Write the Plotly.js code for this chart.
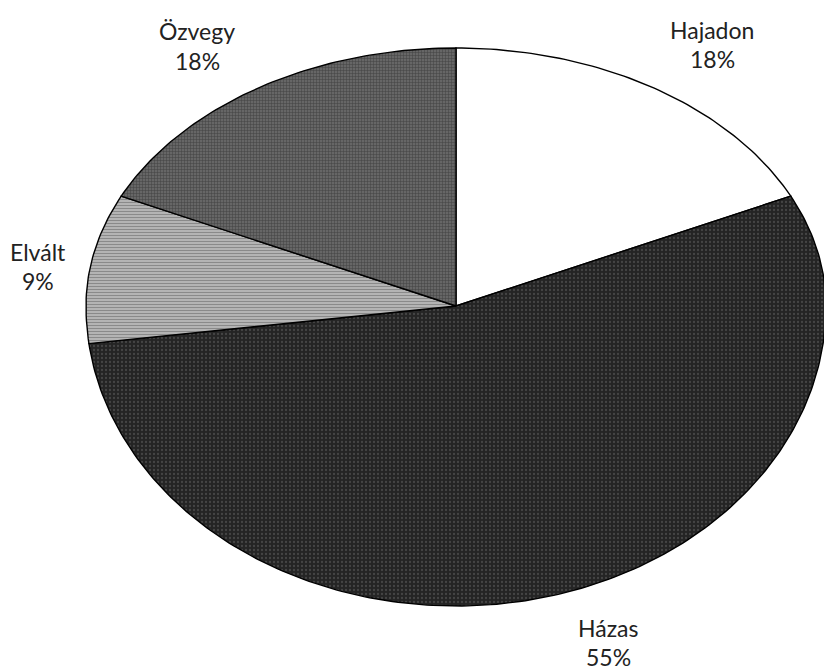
<!DOCTYPE html>
<html>
<head>
<meta charset="utf-8">
<script src="https://cdn.plot.ly/plotly-3.0.1.min.js"></script>
<style>
html,body{margin:0;padding:0;background:#fff;}
#chart{width:824px;height:670px;}
</style>
</head>
<body>
<div id="chart"></div>
<script>
// Data (clockwise from 12 o'clock)
const categories = ["Hajadon", "Házas", "Elvált", "Özvegy"];
const shares = [18, 55, 9, 18];

// Styling
const fills = ["#ffffff", "#2a2a2a", "#a9a9a9", "#555555"];
const patterns = [
  null,
  {shape: ".", fgcolor: "#454545", bgcolor: "#242424", size: 4, solidity: 0.25},
  {shape: "-", fgcolor: "#8a8a8a", bgcolor: "#b4b4b4", size: 3, solidity: 0.35},
  {shape: "+", fgcolor: "#424242", bgcolor: "#666666", size: 3, solidity: 0.3}
];
const labelPos = [
  {x: 712, y1: 30, y2: 59},
  {x: 608, y1: 628, y2: 657},
  {x: 38,  y1: 252, y2: 281},
  {x: 197, y1: 31, y2: 61}
];
const W = 824, H = 670;
const bottomStretch = 300 / 258;   // lower half of the tilted ellipse is deeper

const total = shares.reduce((a, b) => a + b, 0);
const traces = [];
let cum = 0;
shares.forEach((v, i) => {
  const a0 = cum / total * 2 * Math.PI;
  cum += v;
  const a1 = cum / total * 2 * Math.PI;
  const xs = [0], ys = [0];
  const n = Math.max(8, Math.round(v * 4));
  for (let k = 0; k <= n; k++) {
    const t = a0 + (a1 - a0) * k / n;
    const c = Math.cos(t);
    xs.push(Math.sin(t));
    ys.push(c < 0 ? c * bottomStretch : c);
  }
  xs.push(0); ys.push(0);
  const tr = {
    type: "scatter", mode: "lines", x: xs, y: ys,
    fill: "toself", fillcolor: fills[i],
    line: {color: "#000", width: 1.4},
    hoverinfo: "skip", showlegend: false, name: categories[i]
  };
  if (patterns[i]) tr.fillpattern = patterns[i];
  traces.push(tr);
});

const font = {family: "Lato, 'Open Sans', sans-serif", size: 23, color: "#222"};
const annotations = [];
categories.forEach((c, i) => {
  const p = labelPos[i];
  annotations.push({xref: "paper", yref: "paper", x: p.x / W, y: 1 - p.y1 / H,
    text: c, showarrow: false, xanchor: "center", yanchor: "middle", font: font});
  annotations.push({xref: "paper", yref: "paper", x: p.x / W, y: 1 - p.y2 / H,
    text: shares[i] + "%", showarrow: false, xanchor: "center", yanchor: "middle", font: font});
});

// pixel mapping: center (456,306), rx 370, top radius 258
const cx = 456, cy = 306, rx = 370, ry = 258;
const layout = {
  width: W, height: H,
  margin: {l: 0, r: 0, t: 0, b: 0},
  paper_bgcolor: "#fff", plot_bgcolor: "#fff",
  xaxis: {range: [-cx / rx, (W - cx) / rx], visible: false, fixedrange: true},
  yaxis: {range: [-(H - cy) / ry, cy / ry], visible: false, fixedrange: true},
  annotations: annotations,
  hovermode: false
};
Plotly.newPlot("chart", traces, layout, {displayModeBar: false, staticPlot: true});
</script>
</body>
</html>
